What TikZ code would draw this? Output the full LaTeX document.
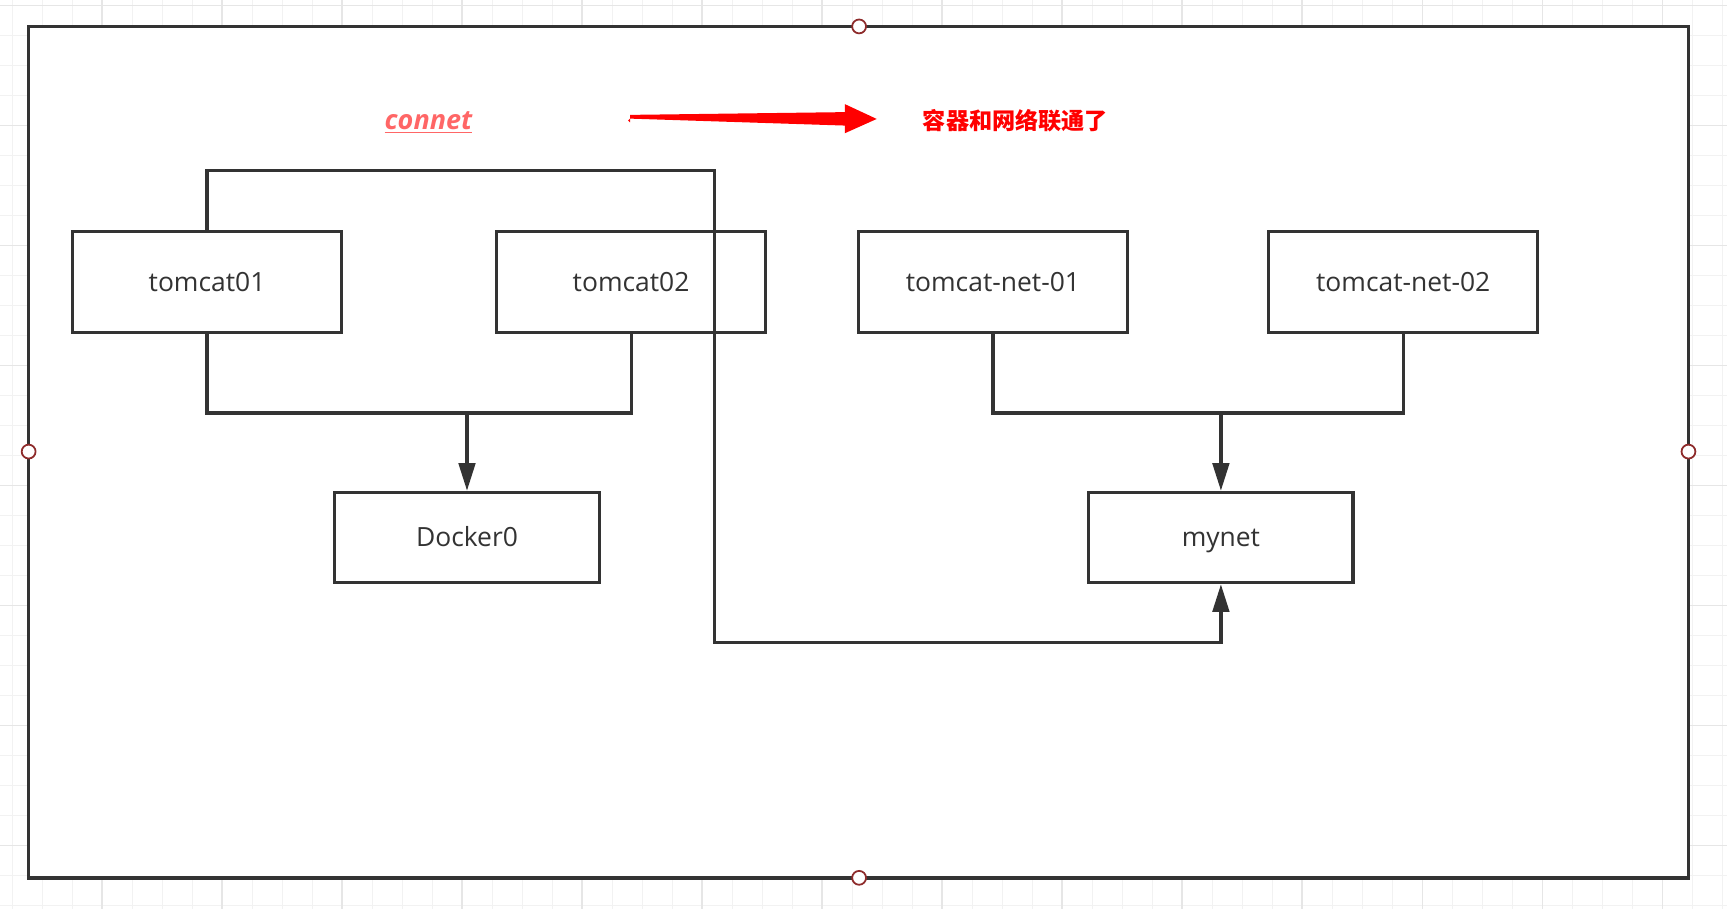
\documentclass[tikz,border=0pt]{standalone}
\usepackage{fontspec}
\setmainfont{Open Sans}
\newfontfamily\cjk{Noto Sans CJK SC}
\usetikzlibrary{arrows.meta,calc}
\definecolor{ink}{HTML}{333333}
\definecolor{gridminor}{HTML}{F2F2F2}
\definecolor{gridmajor}{HTML}{E6E6E6}
\definecolor{handlecol}{HTML}{8E2B2B}
\definecolor{connetred}{HTML}{FF6666}
\definecolor{brightred}{HTML}{FF0000}
\begin{document}
\begin{tikzpicture}[x=1pt,y=-1pt,
  box/.style={draw=ink, line width=3pt, minimum width=244pt, minimum height=92pt,
    inner sep=0pt, text=ink, text height=22pt, text depth=5pt,
    font=\fontsize{24}{28}\selectfont},
  smallbox/.style={box, minimum width=240pt, minimum height=82pt},
  conn/.style={draw=ink, line width=2.9pt, line join=miter},
  arr/.style={conn, -{Triangle[length=25pt,width=15pt]}},
  minorline/.style={draw=gridminor, line width=0.9pt},
  majorline/.style={draw=gridmajor, line width=1.1pt},
  handle/.style={draw=handlecol, fill=white, line width=1.6pt},
  frame/.style={draw=ink, fill=white, line width=3.3pt}
]
\useasboundingbox (0,0) rectangle (1568,825.3);
\fill[white] (0,0) rectangle (1568,825.3);
% background grid
\foreach \i in {0,...,57} {\draw[minorline] ({10.9+27.24*\i},0) -- ({10.9+27.24*\i},825.3);}
\foreach \j in {0,...,30} {\draw[minorline] (0,{5.2+27.24*\j}) -- (1568,{5.2+27.24*\j});}
\foreach \i in {0,...,14} {\draw[majorline] ({92.6+108.96*\i},0) -- ({92.6+108.96*\i},825.3);}
\foreach \j in {0,...,7} {\draw[majorline] (0,{5.2+108.96*\j}) -- (1568,{5.2+108.96*\j});}
% outer frame
\draw[frame] (26,24) rectangle (1533,797);
\foreach \p in {(780,24),(26,410),(1533,410),(780,797)} {\draw[handle] \p circle (6.3pt);}
% labels
\node[text=connetred, font=\fontsize{24.5}{28}\selectfont\bfseries\itshape] (cn) at (389,111) {\underline{connet}};
\node[text=brightred, font=\fontsize{21}{24}\selectfont\cjk\bfseries] (cz) at (922,110) {容器和网络联通了};
% red arrow
\coordinate (ra) at (572,106);
\coordinate (rb) at (796,108);
\fill[brightred] ($(ra)+(0,-1.7)$) -- ($(rb)+(-29,-6.2)$) -- ($(rb)+(-29,-13.5)$) -- (rb)
  -- ($(rb)+(-29,13)$) -- ($(rb)+(-29,6)$) -- ($(ra)+(0,1.7)$) arc[start angle=90, end angle=270, radius=1.7pt] -- cycle;
% boxes
\node[box] (t1) at (188,256) {tomcat01};
\node[box] (t2) at (573,256) {tomcat02};
\node[box] (n1) at (901.5,256) {tomcat-net-01};
\node[box] (n2) at (1274,256) {tomcat-net-02};
\node[smallbox] (d0) at (424,488) {Docker0};
\node[smallbox] (mn) at (1108.5,488) {mynet};
% junctions
\coordinate (j1) at (424,375);
\coordinate (j2) at (1108.5,375);
\coordinate (c1) at (649,155);
\coordinate (c2) at (649,583);
% connectors
\draw[conn] (t1.south) |- (j1) -| (t2.south);
\draw[arr] (j1) -- (d0.north);
\draw[conn] (n1.south) |- (j2) -| (n2.south);
\draw[arr] (j2) -- (mn.north);
\draw[arr] (t1.north) |- (c1) -- (c2) -| (mn.south);
\end{tikzpicture}
\end{document}
